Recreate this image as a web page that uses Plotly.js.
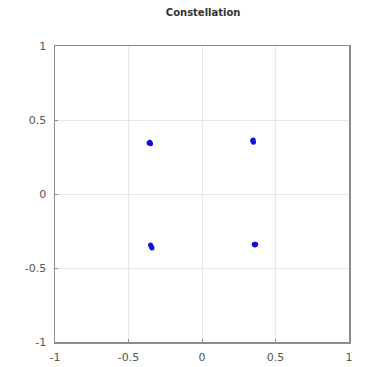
<!DOCTYPE html>
<html><head><meta charset="utf-8">
<script src="https://cdn.plot.ly/plotly-3.0.1.min.js"></script>
<style>html,body{margin:0;padding:0;background:#fff}#chart{width:368px;height:367px}</style>
</head><body><div id="chart"></div>
<script>
// received symbol samples (in-phase, quadrature)
const inPhase    = [-0.36, -0.355, -0.35,  0.345, 0.35, 0.348, -0.35, -0.345, -0.34,  0.355, 0.36, 0.365];
const quadrature = [ 0.345, 0.35, 0.34,   0.36, 0.35, 0.365, -0.345, -0.355, -0.365, -0.34, -0.345, -0.34];
const tickVals = [-1, -0.5, 0, 0.5, 1];
const tickText = ['-1', '-0.5', '0', '0.5', '1'];

const axisStyle = {
  range: [-1, 1], tickvals: tickVals, ticktext: tickText,
  showgrid: true, gridcolor: '#e6e6e6', gridwidth: 1,
  zeroline: false, showline: true, linecolor: '#8c8c8c', linewidth: 1.5, mirror: true,
  ticks: 'inside', ticklen: 3, tickcolor: '#8c8c8c',
  tickfont: {family: 'DejaVu Sans', size: 11, color: '#555'}, fixedrange: true
};
Plotly.newPlot('chart', [{
  x: inPhase, y: quadrature, type: 'scatter', mode: 'markers',
  marker: {color: '#1010dd', size: 5}
}], {
  width: 368, height: 367,
  margin: {l: 55, r: 19, t: 46, b: 25},
  title: {text: '<b>Constellation</b>', font: {family: 'DejaVu Sans', size: 10, color: '#333'}, x: 0.552, xanchor: 'center', y: 0.975, yanchor: 'top'},
  xaxis: Object.assign({}, axisStyle, {ticklabelstandoff: 4}),
  yaxis: Object.assign({}, axisStyle, {ticklabelstandoff: 5}),
  showlegend: false, plot_bgcolor: '#fff', paper_bgcolor: '#fff'
}, {displayModeBar: false, staticPlot: true});
</script></body></html>
